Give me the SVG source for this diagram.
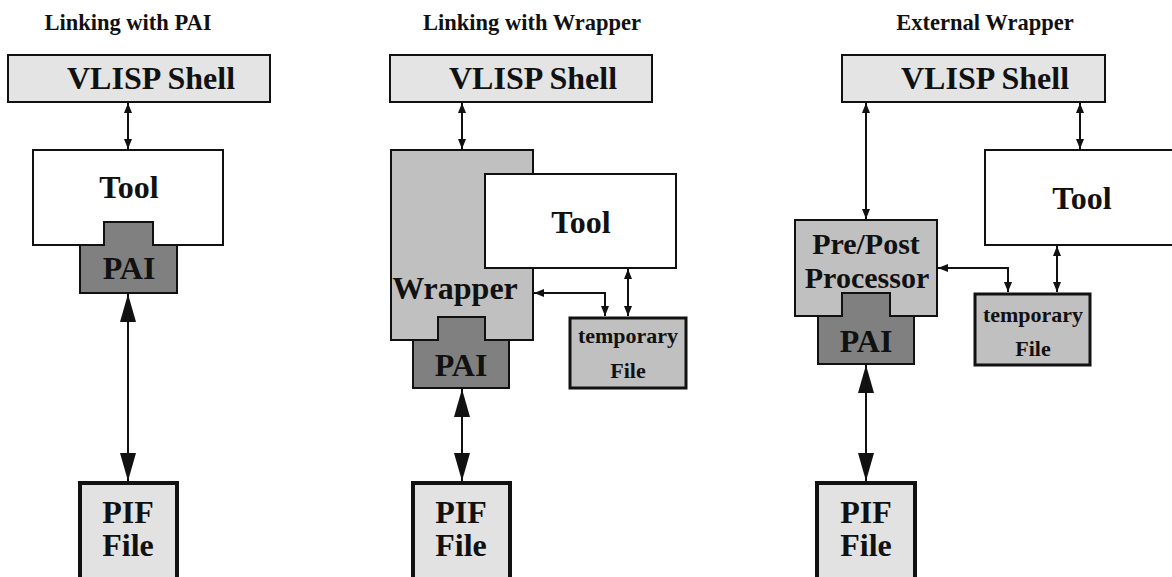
<svg xmlns="http://www.w3.org/2000/svg" width="1172" height="577" viewBox="0 0 1172 577">
<style>
text{font-family:"Liberation Serif","Times New Roman",serif;font-weight:bold;fill:#111;text-anchor:middle}
.title{font-size:22.5px}
.big{font-size:32px}
.pp{font-size:30px}
.small{font-size:22px}
.box{stroke:#111;stroke-width:2}
.shell{fill:#e4e4e4}
.tool{fill:#ffffff}
.mid{fill:#c0c0c0}
.pai{fill:#808080}
.pif{fill:#e2e2e2;stroke:#111;stroke-width:4}
.tmp{fill:#c0c0c0;stroke:#111;stroke-width:3}
.c{stroke:#111;stroke-width:2;fill:none}
.cs{marker-start:url(#as);marker-end:url(#as)}
.cl{marker-start:url(#al);marker-end:url(#al)}
</style>
<defs>
<marker id="as" markerWidth="10" markerHeight="8" refX="10" refY="4" orient="auto-start-reverse" markerUnits="userSpaceOnUse"><path d="M0,0 L10,4 L0,8 z" fill="#111"/></marker>
<marker id="al" markerWidth="28" markerHeight="16" refX="28" refY="8" orient="auto-start-reverse" markerUnits="userSpaceOnUse"><path d="M0,0 L28,8 L0,16 z" fill="#111"/></marker>
</defs>
<rect width="1172" height="577" fill="#fff"/>

<g id="titles">
<text class="title" x="128" y="30">Linking with PAI</text>
<text class="title" x="532" y="30">Linking with Wrapper</text>
<text class="title" x="985" y="30">External Wrapper</text>
</g>

<!-- Panel 1 -->
<g id="p1-shell"><rect class="box shell" x="8" y="55" width="262" height="47"/><text class="big" x="151" y="89">VLISP Shell</text></g>
<g id="p1-tool"><rect class="box tool" x="33" y="150" width="190" height="95"/><text class="big" x="129" y="198">Tool</text></g>
<g id="p1-pai"><path class="box pai" d="M104,222 H153 V245 H177 V293 H80 V245 H104 Z"/><text class="big" x="129" y="279">PAI</text></g>
<g id="p1-pif"><rect class="pif" x="80" y="483" width="97" height="110"/><text class="big" x="128" y="523">PIF</text><text class="big" x="128" y="556">File</text></g>

<!-- Panel 2 -->
<g id="p2-shell"><rect class="box shell" x="390" y="55" width="262" height="47"/><text class="big" x="533" y="89">VLISP Shell</text></g>
<g id="p2-wrapper"><rect class="box mid" x="391" y="150" width="142" height="190"/><text class="big" x="455" y="299">Wrapper</text></g>
<g id="p2-tool"><rect class="box tool" x="485" y="174" width="191" height="94"/><text class="big" x="581" y="233">Tool</text></g>
<g id="p2-pai"><path class="box pai" d="M438,317 H485 V340 H509 V388 H413 V340 H438 Z"/><text class="big" x="461" y="376">PAI</text></g>
<g id="p2-tmp"><rect class="tmp" x="570" y="318" width="116" height="70"/><text class="small" x="628" y="343">temporary</text><text class="small" x="628" y="378">File</text></g>
<g id="p2-pif"><rect class="pif" x="413" y="483" width="97" height="110"/><text class="big" x="461" y="523">PIF</text><text class="big" x="461" y="556">File</text></g>

<!-- Panel 3 -->
<g id="p3-shell"><rect class="box shell" x="842" y="55" width="263" height="47"/><text class="big" x="985" y="89">VLISP Shell</text></g>
<g id="p3-tool"><rect class="box tool" x="985" y="150" width="200" height="95"/><text class="big" x="1082" y="209">Tool</text></g>
<g id="p3-prepost"><rect class="box mid" x="795" y="220" width="142" height="96"/><text class="pp" x="866" y="254">Pre/Post</text><text class="pp" x="867" y="288">Processor</text></g>
<g id="p3-pai"><path class="box pai" d="M842,293 H890 V316 H914 V364 H818 V316 H842 Z"/><text class="big" x="866" y="352">PAI</text></g>
<g id="p3-tmp"><rect class="tmp" x="975" y="294" width="115" height="71"/><text class="small" x="1033" y="322">temporary</text><text class="small" x="1033" y="356">File</text></g>
<g id="p3-pif"><rect class="pif" x="817" y="483" width="98" height="110"/><text class="big" x="866" y="523">PIF</text><text class="big" x="866" y="556">File</text></g>

<g id="connectors">
<line class="c cs" x1="128" y1="103" x2="128" y2="149"/>
<line class="c cl" x1="128" y1="294" x2="128" y2="481"/>
<line class="c cs" x1="462" y1="103" x2="462" y2="149"/>
<line class="c cl" x1="462" y1="389" x2="462" y2="481"/>
<polyline class="c cs" points="534,293 605,293 605,316"/>
<line class="c cs" x1="628" y1="269" x2="628" y2="316"/>
<line class="c cs" x1="866" y1="103" x2="866" y2="219"/>
<line class="c cs" x1="1080" y1="103" x2="1080" y2="149"/>
<line class="c cl" x1="866" y1="365" x2="866" y2="481"/>
<polyline class="c cs" points="938,268 1008,268 1008,292"/>
<line class="c cs" x1="1057" y1="246" x2="1057" y2="292"/>
</g>
</svg>
